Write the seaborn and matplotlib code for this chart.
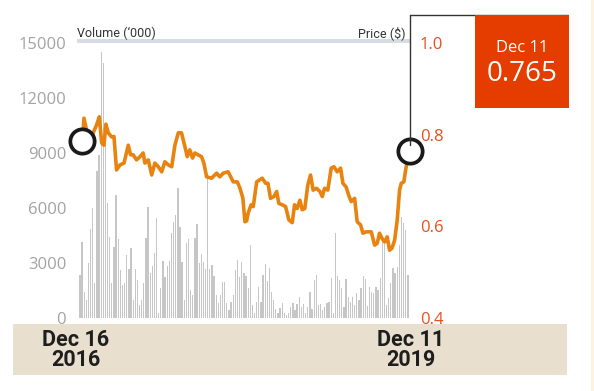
import numpy as np
import pandas as pd
import seaborn as sns
import matplotlib.pyplot as plt
from matplotlib.patches import Rectangle
from matplotlib.lines import Line2D

# weekly volume ('000), Dec 2016 -> Dec 2019
volume = [2340, 4160, 1430, 980, 3010, 4850, 6000, 1900, 8000, 8900, 14500,
          13900, 9500, 6280, 4430, 1900, 3890, 6700, 4300, 2600, 1800,
          1900, 3430, 2650, 3800, 980, 2700, 2070, 710, 980, 1900,
          4360, 6070, 2450, 2830, 3540, 5450, 270, 1630,
          3120, 2230, 2830, 3120, 4630, 5250, 5610, 7070, 4960, 3070,
          980, 4070, 4300, 1530, 1250, 4360, 5120, 3000, 3490, 3070,
          2670, 7700, 2670, 2890, 2290, 1250, 820, 1250, 1980, 1980,
          820, 440, 890, 1250, 2620, 3160, 2250, 3070, 2450, 2290,
          1630, 3980, 710, 270, 890, 1690, 890, 2340, 2940, 2030,
          2720, 1430, 980, 490, 270, 560, 820, 290, 160, 290,
          620, 840, 440, 750, 1130, 620, 750, 290, 620, 1430,
          490, 2070, 2320, 710, 750, 440, 620, 840, 890, 2180,
          270, 4650, 2290, 2070, 1620, 620, 2120, 1160, 890, 1130,
          710, 1360, 980, 1620, 2290, 2120, 650, 1710, 1430, 1360,
          1700, 1530, 2180, 4250, 4160, 710, 1090, 1910, 2730, 2450,
          2800, 3980, 5520, 5180, 4800, 2340]
weeks = list(range(len(volume)))

# closing price ($), read at week positions
price_week = [1.2, 1.9, 3.4, 5.5, 7.8, 9.1, 10.2, 11.3, 12.2, 13.3,
              14.9, 16.0, 17.2, 18.8, 20.7, 22.7, 23.8, 25.0, 26.6, 28.2,
              29.7, 30.5, 32.1, 33.7, 35.2, 36.8, 38.4, 39.9, 41.5, 43.1,
              44.6, 46.2, 47.7, 49.3, 50.4, 51.6, 52.9, 54.0, 55.5, 57.1,
              58.2, 59.5, 61.8, 64.2, 65.7, 67.3, 69.6, 72.0, 73.9, 75.1,
              76.5, 77.5, 78.3, 79.0, 80.4, 81.4, 83.0, 85.6, 87.2, 88.3,
              89.5, 91.1, 92.4, 93.4, 95.0, 96.6, 98.1, 99.7, 100.8, 102.0,
              103.3, 104.4, 105.6, 107.0, 108.3, 109.5, 111.1, 112.7, 113.8, 114.9,
              116.4, 118.0, 119.3, 120.8, 122.4, 123.5, 125.0, 126.2, 127.4, 129.0,
              130.2, 131.8, 132.9, 134.4, 136.8, 138.4, 139.6, 140.7, 141.8, 143.1,
              144.3, 145.4, 146.5, 147.8, 149.0, 150.1, 150.9, 152.1, 153.2, 154.9]
price = [0.786, 0.836, 0.804, 0.796, 0.821, 0.839, 0.782, 0.777, 0.823, 0.804,
         0.795, 0.796, 0.723, 0.734, 0.738, 0.777, 0.756, 0.756, 0.745, 0.752,
         0.760, 0.738, 0.745, 0.712, 0.738, 0.730, 0.719, 0.741, 0.734, 0.730,
         0.777, 0.804, 0.804, 0.774, 0.752, 0.767, 0.749, 0.760, 0.756, 0.752,
         0.738, 0.708, 0.705, 0.716, 0.708, 0.716, 0.719, 0.697, 0.697, 0.684,
         0.662, 0.610, 0.612, 0.629, 0.647, 0.643, 0.697, 0.705, 0.694, 0.694,
         0.661, 0.665, 0.676, 0.650, 0.647, 0.643, 0.614, 0.608, 0.647, 0.639,
         0.657, 0.636, 0.639, 0.690, 0.712, 0.679, 0.683, 0.676, 0.665, 0.683,
         0.679, 0.727, 0.730, 0.719, 0.727, 0.694, 0.686, 0.668, 0.654, 0.661,
         0.610, 0.603, 0.585, 0.588, 0.588, 0.559, 0.563, 0.585, 0.574, 0.566,
         0.577, 0.548, 0.552, 0.570, 0.614, 0.679, 0.694, 0.697, 0.730, 0.765]

vol_ticks = [0, 3000, 6000, 9000, 12000, 15000]
price_ticks = [0.4, 0.6, 0.8, 1.0]
start_label = ["Dec 16", "2016"]
end_label = ["Dec 11", "2019"]
last_label = "Dec 11"
last_price = "0.765"

GREY_BAR = "#c6c6c6"
ORANGE = "#e8830f"
RED = "#e53d00"
TICK_RED = "#e8501e"
BAND = "#e8dfcf"
NARROW = ["Roboto", "DejaVu Sans"]

sns.set_style("white")
plt.rcParams["font.family"] = ["Open Sans", "DejaVu Sans"]

W, H = 594, 391
fig = plt.figure(figsize=(W / 100, H / 100), dpi=100)
ax = fig.add_axes([78 / W, 1 - 318 / H, 332 / W, 275 / H])

df_vol = pd.DataFrame({"week": weeks, "volume": volume})
sns.barplot(data=df_vol, x="week", y="volume", native_scale=True,
            color=GREY_BAR, saturation=1, width=0.6, linewidth=0, ax=ax)
ax.set_xlim(-0.9, 155)
ax.set_ylim(0, 15000)
ax.set_yticks(vol_ticks)
ax.set_yticklabels([str(v) for v in vol_ticks])
ax.set_xticks([])
ax.set_xlabel("")
ax.set_ylabel("")
ax.tick_params(axis="y", length=0, pad=8.5, labelsize=12, labelcolor="#a3a3a3")
for s in ax.spines.values():
    s.set_visible(False)

ax2 = ax.twinx()
df_p = pd.DataFrame({"week": price_week, "price": price})
sns.lineplot(data=df_p, x="week", y="price", color=ORANGE, linewidth=2.6,
             ax=ax2, sort=False)
ax2.set_ylim(0.4, 1.0)
ax2.set_yticks(price_ticks)
ax2.set_yticklabels([f"{p:.1f}" for p in price_ticks])
ax2.tick_params(axis="y", length=0, pad=7, labelsize=12, labelcolor=TICK_RED)
ax2.set_xlabel("")
ax2.set_ylabel("")
for s in ax2.spines.values():
    s.set_visible(False)

# start / end markers
ax2.plot([price_week[0], price_week[-1]], [price[0], price[-1]], "o", ms=17.5,
         mfc="white", mec="#1a1a1a", mew=2.7, clip_on=False, zorder=6)

# header rule and titles
fig.add_artist(Rectangle((77 / W, 1 - 43 / H), 333 / W, 4 / H,
                         transform=fig.transFigure, color="#d5dce3", lw=0))
fig.text(77 / W, 1 - 37 / H, "Volume (‘000)", family=NARROW, fontsize=9,
         color="#333333", ha="left", va="baseline")
fig.text(406 / W, 1 - 37 / H, "Price ($)", family=NARROW, fontsize=9,
         color="#333333", ha="right", va="baseline")

# callout line and box
fig.add_artist(Line2D([410 / W, 410 / W], [1 - 15 / H, 1 - 145 / H],
                      transform=fig.transFigure, color="#333333", lw=1, zorder=1))
fig.add_artist(Line2D([410 / W, 568 / W], [1 - 15 / H, 1 - 15 / H],
                      transform=fig.transFigure, color="#333333", lw=1, zorder=1))
fig.add_artist(Rectangle((475 / W, 1 - 108 / H), 94 / W, 93 / H,
                         transform=fig.transFigure, color=RED, lw=0, zorder=2))
fig.text(522 / W, 1 - 48 / H, last_label, color="white", fontsize=12,
         ha="center", va="center", zorder=3)
fig.text(522 / W, 1 - 74 / H, last_price, color="white", fontsize=20,
         ha="center", va="center", zorder=3)

# date band
fig.add_artist(Rectangle((13 / W, 1 - 375 / H), 554 / W, 51 / H,
                         transform=fig.transFigure, color=BAND, lw=0, zorder=10))
for x, lab in [(76, start_label), (411, end_label)]:
    fig.text(x / W, 1 - 340 / H, lab[0], family=NARROW, fontweight="bold",
             fontsize=15.5, color="#1e1e1e", ha="center", va="center", zorder=11)
    fig.text(x / W, 1 - 360 / H, lab[1], family=NARROW, fontweight="bold",
             fontsize=15.5, color="#1e1e1e", ha="center", va="center", zorder=11)

# page edge
fig.add_artist(Rectangle((591 / W, 0), 3 / W, 1, transform=fig.transFigure,
                         color="#fcf3e3", lw=0, zorder=10))

fig.savefig("out.png", dpi=100)
